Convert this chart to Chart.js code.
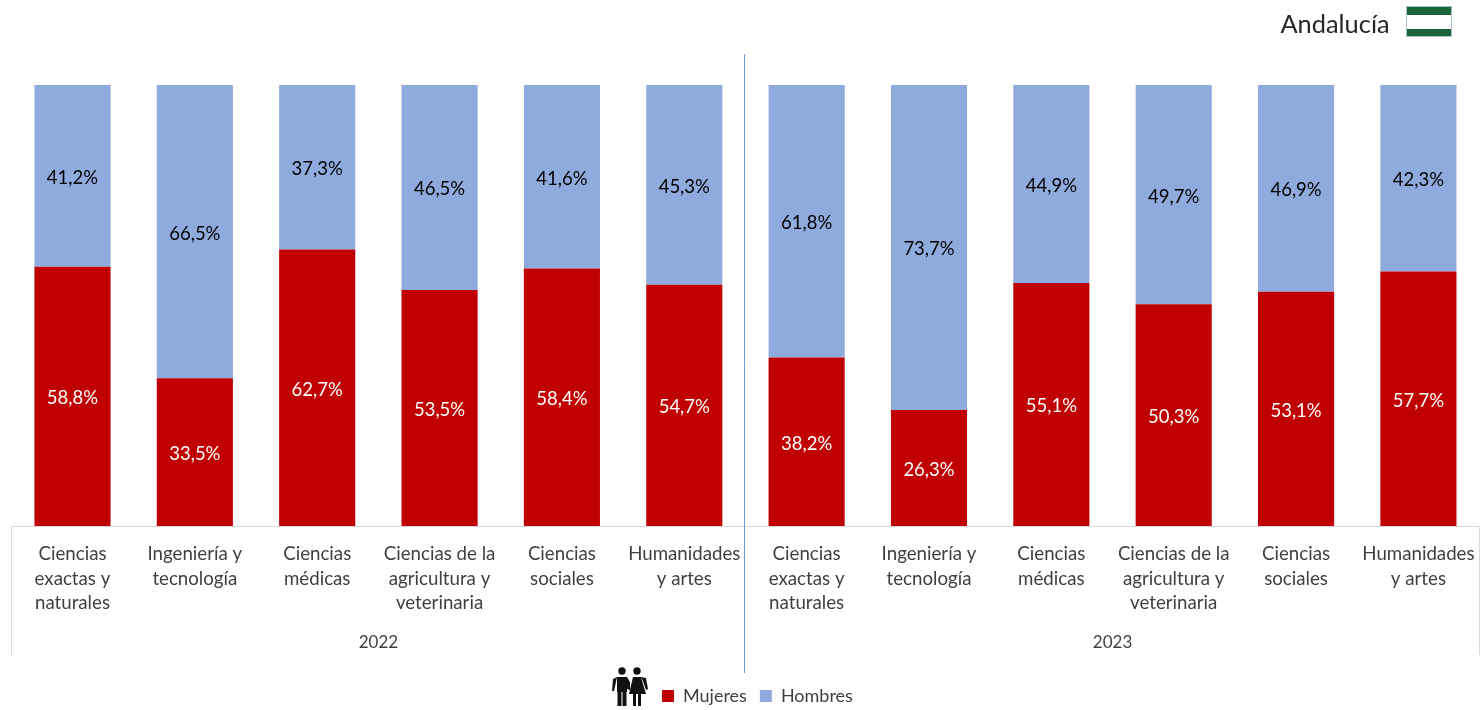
<!DOCTYPE html>
<html>
<head>
<meta charset="utf-8">
<style>html,body{margin:0;padding:0;background:#fff}#w{position:relative;width:1481px;height:710px}</style>
<script src="https://cdn.jsdelivr.net/npm/chart.js@4"></script>
</head>
<body>
<div id="w"><canvas id="c" width="1481" height="710"></canvas></div>
<script>
const areas = [["Ciencias","exactas y","naturales"],["Ingeniería y","tecnología"],["Ciencias","médicas"],["Ciencias de la","agricultura y","veterinaria"],["Ciencias","sociales"],["Humanidades","y artes"]];
const years = ["2022","2023"];
const mujeres = [58.8,33.5,62.7,53.5,58.4,54.7,38.2,26.3,55.1,50.3,53.1,57.7];
const hombres = [41.2,66.5,37.3,46.5,41.6,45.3,61.8,73.7,44.9,49.7,46.9,42.3];
const categories = [...areas, ...areas];
const FONT = "Lato";
const TXT = "#3f3f3f";

const decor = {
  id: "decor",
  afterLayout(chart) {
    const t = chart.titleBlock;
    t.left -= 90; t.right -= 90;
    const l = chart.legend;
    l.left += 12; l.right += 12; l.top += 5; l.bottom += 5;
    l.legendHitBoxes.forEach(b => { b.left += 12; b.top += 5; });
  },
  beforeDatasetsDraw(chart) {
    const g = chart.ctx, x = chart.scales.x, a = chart.chartArea;
    g.save();
    g.strokeStyle = "#d9d9d9"; g.lineWidth = 1;
    g.beginPath();
    g.moveTo(x.left, a.bottom + .5); g.lineTo(x.right, a.bottom + .5);
    g.moveTo(Math.round(x.left) + .5, a.bottom); g.lineTo(Math.round(x.left) + .5, 655);
    g.moveTo(Math.round(x.right) - .5, a.bottom); g.lineTo(Math.round(x.right) - .5, 655);
    g.stroke();
    g.restore();
  },
  afterDraw(chart) {
    const g = chart.ctx, x = chart.scales.x;
    const mid = (x.left + x.right) / 2;
    g.save();
    g.strokeStyle = "#6f9bd8"; g.lineWidth = 1;
    g.beginPath(); g.moveTo(Math.round(mid) - .5, 54); g.lineTo(Math.round(mid) - .5, 673); g.stroke();
    g.fillStyle = "#ffffff"; g.fillRect(1406, 6, 46, 31);
    g.fillStyle = "#1a6438"; g.fillRect(1406.5, 7, 45, 8); g.fillRect(1406.5, 29, 45, 7);
    g.strokeStyle = "#a9c3cf"; g.strokeRect(1406.5, 6.5, 45, 30);
    g.fillStyle = "#111";
    const person = (cx, skirt) => {
      g.beginPath(); g.arc(cx, 671, 3.7, 0, 7); g.fill();
      if (skirt) {
        g.beginPath(); g.moveTo(cx - 4, 677); g.lineTo(cx + 4, 677); g.lineTo(cx + 9, 694); g.lineTo(cx - 8, 694); g.closePath(); g.fill();
        g.fillRect(cx - 4, 693, 3, 13); g.fillRect(cx + 1, 693, 3, 13);
        g.beginPath(); g.moveTo(cx + 4, 677); g.lineTo(cx + 9, 678); g.lineTo(cx + 11, 689); g.lineTo(cx + 9, 690); g.lineTo(cx + 6, 681); g.closePath(); g.fill();
      } else {
        g.fillRect(cx - 5, 677, 10, 15);
        g.fillRect(cx - 4.5, 691, 4, 15); g.fillRect(cx + .5, 691, 4, 15);
        g.beginPath(); g.moveTo(cx - 5, 677); g.lineTo(cx - 9, 679); g.lineTo(cx - 10, 691); g.lineTo(cx - 8, 691); g.lineTo(cx - 6, 682); g.closePath(); g.fill();
        g.beginPath(); g.moveTo(cx + 5, 677); g.lineTo(cx + 8, 682); g.lineTo(cx + 8, 690); g.lineTo(cx + 5, 689); g.closePath(); g.fill();
      }
    };
    person(622, false); person(637, true);
    g.restore();
  },
  afterDatasetsDraw(chart) {
    const g = chart.ctx;
    g.save();
    g.font = "18.5px " + FONT; g.textAlign = "center"; g.textBaseline = "middle";
    chart.data.datasets.forEach((ds, i) => {
      g.fillStyle = i === 0 ? "#ffffff" : "#000000";
      chart.getDatasetMeta(i).data.forEach((el, j) => {
        const p = el.getProps(["x", "y", "base"], true);
        g.fillText(ds.data[j].toFixed(1).replace(".", ",") + "%", p.x, (p.y + p.base) / 2 + 2);
      });
    });
    g.restore();
  }
};

new Chart(document.getElementById("c"), {
  type: "bar",
  plugins: [decor],
  data: {
    labels: categories,
    datasets: [
      { label: "Mujeres", data: mujeres, backgroundColor: "#c00000", stack: "s" },
      { label: "Hombres", data: hombres, backgroundColor: "#8faadc", stack: "s" }
    ]
  },
  options: {
    responsive: false,
    animation: false,
    layout: { padding: { left: 11.3, right: 1.4, top: 0, bottom: 0 } },
    datasets: { bar: { barPercentage: 0.622, categoryPercentage: 1 } },
    plugins: {
      tooltip: { enabled: false },
      title: {
        display: true, text: "Andalucía", align: "end", color: "#262626",
        font: { family: FONT, size: 25.4, weight: "normal", lineHeight: 1.2 },
        padding: { top: 10, bottom: 44.5 }
      },
      legend: {
        position: "bottom",
        labels: {
          boxWidth: 12, boxHeight: 12, padding: 13, color: "#404040",
          font: { family: FONT, size: 18 }
        }
      }
    },
    scales: {
      x: {
        stacked: true,
        grid: { display: false }, border: { display: false },
        ticks: { autoSkip: false, maxRotation: 0, minRotation: 0, padding: 8, color: TXT,
                 font: { family: FONT, size: 18.7, lineHeight: 1.31 } },
        afterFit(s) { s.height = 96; s.paddingLeft = 0; s.paddingRight = 0; }
      },
      x2: {
        type: "category", labels: years, position: "bottom",
        grid: { display: false }, border: { display: false },
        ticks: { padding: 2, color: TXT, maxRotation: 0, font: { family: FONT, size: 17 } },
        afterFit(s) { s.height = 47; s.paddingLeft = 0; s.paddingRight = 0; }
      },
      y: { stacked: true, display: false, min: 0, max: 100 }
    }
  }
});
</script>
</body>
</html>
